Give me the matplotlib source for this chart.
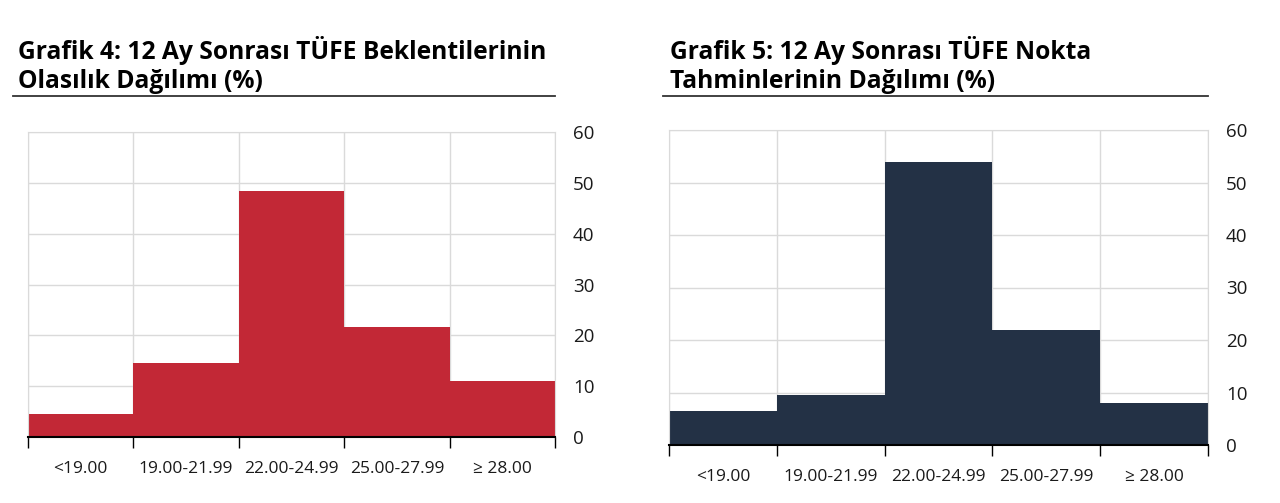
#!/usr/bin/env python3
import matplotlib
matplotlib.use('Agg')
import matplotlib.pyplot as plt
from matplotlib.ticker import FixedLocator, NullFormatter


CATEGORIES = ['<19.00', '19.00-21.99', '22.00-24.99', '25.00-27.99', '≥ 28.00']
PROB_DIST = [4.6, 14.5, 48.3, 21.6, 11.0]
POINT_DIST = [6.4, 9.6, 53.9, 22.0, 8.0]
TITLES = [
    'Grafik 4: 12 Ay Sonrası TÜFE Beklentilerinin\nOlasılık Dağılımı (%)',
    'Grafik 5: 12 Ay Sonrası TÜFE Nokta\nTahminlerinin Dağılımı (%)',
]
COLORS = ['#C22836', '#233145']

plt.rcParams['font.family'] = ['Open Sans', 'DejaVu Sans']
GRID = '#DADADA'


def draw(ax, values, color):
    pos = range(len(CATEGORIES))
    ax.bar(pos, values, width=1.0, color=color, zorder=2)
    ax.set_xlim(-0.5, len(CATEGORIES) - 0.5)
    ax.set_ylim(0, 60)
    ax.set_yticks(range(0, 61, 10))
    ax.yaxis.tick_right()
    ax.tick_params(axis='y', length=0, pad=13, labelsize=13.5, labelcolor='#1a1a1a')
    bounds = [i - 0.5 for i in range(len(CATEGORIES) + 1)]
    ax.xaxis.set_major_locator(FixedLocator(bounds))
    ax.xaxis.set_major_formatter(NullFormatter())
    ax.set_xticks(list(pos), minor=True)
    ax.set_xticklabels(CATEGORIES, minor=True)
    ax.tick_params(axis='x', which='major', length=8, width=1, color='black', direction='out')
    ax.tick_params(axis='x', which='minor', length=0, pad=17, labelsize=12.5, labelcolor='#1a1a1a')
    ax.grid(True, which='major', color=GRID, linewidth=1, zorder=0)
    ax.set_axisbelow(True)
    for side in ('left', 'right', 'top'):
        ax.spines[side].set_color(GRID)
    ax.spines['bottom'].set_color('black')
    ax.spines['bottom'].set_linewidth(1.5)
    ax.spines['bottom'].set_zorder(3)


fig = plt.figure(figsize=(12.8, 5.03), dpi=100)
W, H = 1280, 503
axes_px = [(28, 132, 555, 437), (669, 130, 1208, 445)]
title_px = [(18, 13, 555), (670, 663, 1208)]
for (x0, y0, x1, y1), values, color, title, (tx, lx0, lx1) in zip(axes_px, [PROB_DIST, POINT_DIST], COLORS, TITLES, title_px):
    ax = fig.add_axes([x0 / W, 1 - y1 / H, (x1 - x0) / W, (y1 - y0) / H])
    draw(ax, values, color)
    fig.text(tx / W, 1 - 36 / H, title, fontsize=17.7, fontweight='bold', va='top', ha='left',
             linespacing=1.2, color='black')
    fig.add_artist(plt.Line2D([lx0 / W, lx1 / W], [1 - 96 / H, 1 - 96 / H], color='#333333', linewidth=1.3))

fig.savefig('out.png', dpi=100, facecolor='white')
